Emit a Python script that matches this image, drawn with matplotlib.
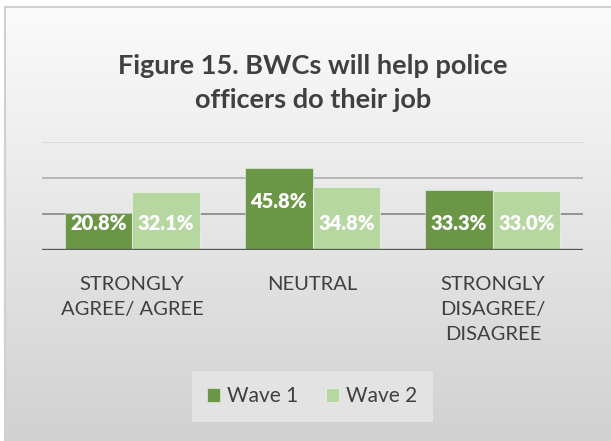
import numpy as np
import matplotlib
matplotlib.use("Agg")
import matplotlib.pyplot as plt

# ── Survey data ──────────────────────────────────────────────────────────
CATEGORIES = ["STRONGLY\nAGREE/ AGREE", "NEUTRAL", "STRONGLY\nDISAGREE/\nDISAGREE"]
WAVE_1 = [20.8, 45.8, 33.3]
WAVE_2 = [32.1, 34.8, 33.0]
SERIES = ["Wave 1", "Wave 2"]

TITLE = "Figure 15. BWCs will help police\nofficers do their job"

# ── Style ────────────────────────────────────────────────────────────────
DARK_GREEN = "#6a9646"
LIGHT_GREEN = "#b7d7a1"
TEXT = "#404040"
FONT = "Lato"

W, H, DPI = 611, 441, 100
fig = plt.figure(figsize=(W / DPI, H / DPI), dpi=DPI)
fig.patch.set_facecolor("white")

# chart area background: vertical grey gradient with a thin frame
bg = fig.add_axes([0, 0, 1, 1], zorder=0)
bg.set_axis_off()
grad = np.linspace(0.985, 0.82, 256).reshape(-1, 1)
x0 = 5 / W
bg.imshow(np.dstack([grad] * 3), extent=[x0, 1, 0, 1 - 7 / H],
          aspect="auto", interpolation="bicubic")
bg.plot([x0, x0, 1], [0, 1 - 7 / H, 1 - 7 / H], color="#d0d0d0", lw=1.5)
bg.set_xlim(0, 1)
bg.set_ylim(0, 1)

# plot area
left, right = 42 / W, 583 / W
bottom, top = 1 - 250 / H, 1 - 142 / H
ax = fig.add_axes([left, bottom, right - left, top - bottom], zorder=1)
ax.patch.set_alpha(0)

x = np.arange(len(CATEGORIES))
bw = 0.375
bars1 = ax.bar(x - bw / 2, WAVE_1, bw, color=DARK_GREEN, edgecolor=(1, 1, 1, 0.45),
               linewidth=0.8, label=SERIES[0], zorder=3)
bars2 = ax.bar(x + bw / 2, WAVE_2, bw, color=LIGHT_GREEN, edgecolor=(1, 1, 1, 0.45),
               linewidth=0.8, label=SERIES[1], zorder=3)

ax.set_xlim(-0.5, len(CATEGORIES) - 0.5)
ax.set_ylim(0, 60)

# gridlines at 20 / 40 / 60 %
for yv, c in zip([20, 40, 60], ["#8e8e8e", "#b3b3b3", "#d8d8d8"]):
    ax.axhline(yv, color=c, lw=1.3, zorder=1)
ax.axhline(0, color="#595959", lw=2.4, zorder=4)

for s in ax.spines.values():
    s.set_visible(False)
ax.set_yticks([])
ax.set_xticks(x)
ax.set_xticklabels(CATEGORIES, fontsize=14.5, color=TEXT, family=FONT,
                   linespacing=1.55)
ax.tick_params(axis="x", length=0, pad=19)

# value labels inside the bars
LABEL_Y = [[14.5, 27.0, 14.5], [14.5, 14.5, 14.5]]
for bars, vals, ly in zip([bars1, bars2], [WAVE_1, WAVE_2], LABEL_Y):
    for b, v, yy in zip(bars, vals, ly):
        ax.text(b.get_x() + b.get_width() / 2, yy, f"{v:.1f}%",
                ha="center", va="center", color="white", fontsize=14.5,
                fontweight="heavy", family=FONT, zorder=5)

fig.text(0.512, 1 - 83.5 / H, TITLE, ha="center", va="center", fontsize=19.5,
         fontweight="bold", color=TEXT, family=FONT, linespacing=1.5)

# legend box
leg = fig.legend(handles=[bars1, bars2], labels=SERIES, loc="center",
                 bbox_to_anchor=(0.511, 1 - 396.5 / H), ncol=2, frameon=True,
                 handlelength=0.62, handleheight=0.62,
                 handletextpad=0.35, columnspacing=1.3, borderpad=0.75,
                 prop={"family": FONT, "size": 15})
leg.get_frame().set_facecolor("#e3e3e3")
leg.get_frame().set_edgecolor("none")
leg.get_frame().set_alpha(1)
leg.get_frame().set_boxstyle("square", pad=0)
for t in leg.get_texts():
    t.set_color(TEXT)

fig.savefig("out.png", dpi=DPI)
